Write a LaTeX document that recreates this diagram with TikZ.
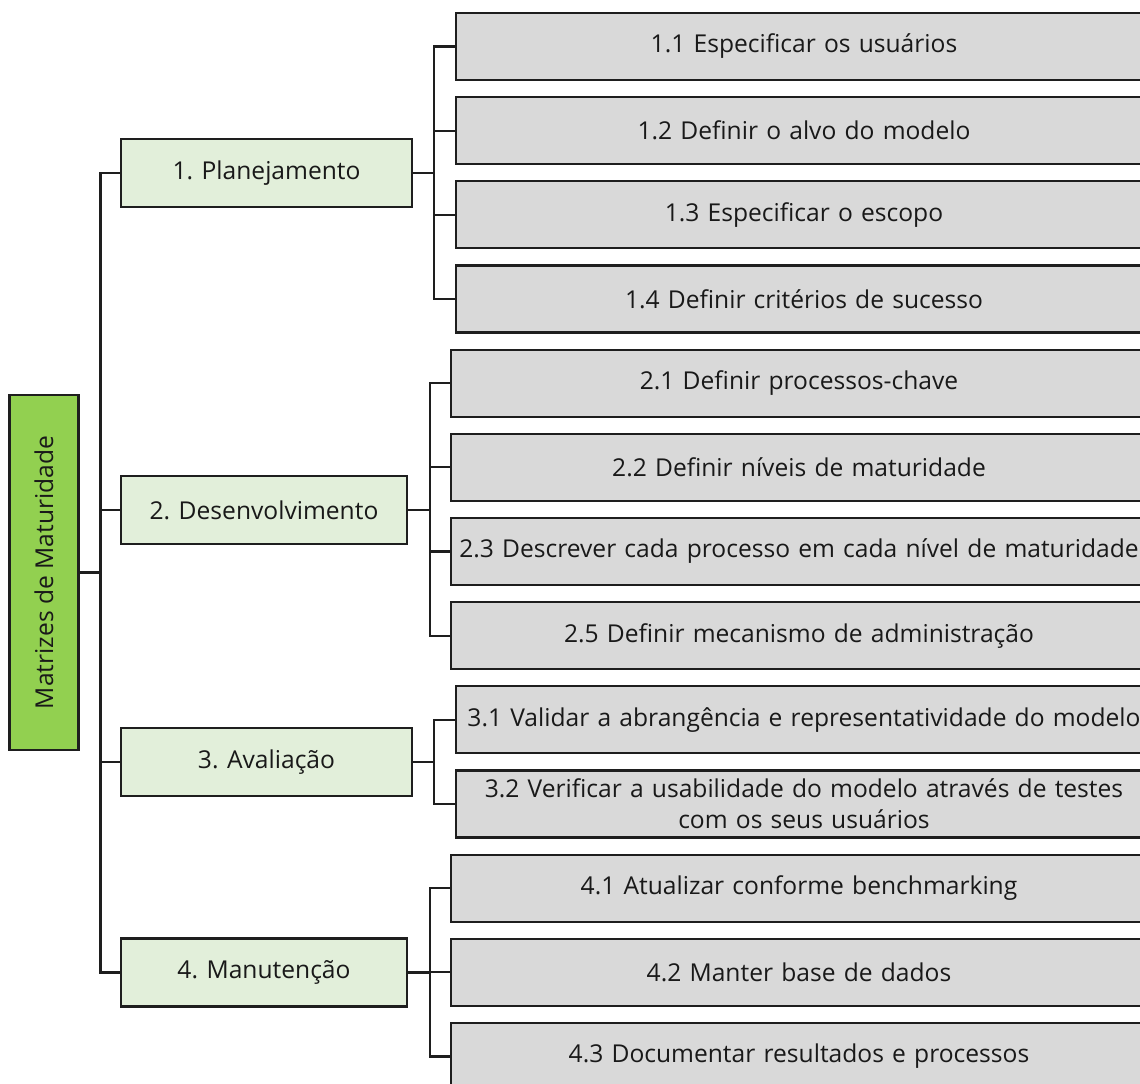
\documentclass[tikz,border=0pt]{standalone}
\usepackage{fontspec}
\usepackage{graphicx}
\setmainfont{Open Sans}

\definecolor{verdeforte}{HTML}{92D050}
\definecolor{verdeclaro}{HTML}{E2EFDA}
\definecolor{cinza}{HTML}{D9D9D9}
\definecolor{borda}{HTML}{1E1E1E}

\tikzset{
  raiz/.style={draw=borda, line width=1.2pt, fill=verdeforte, minimum width=1.38cm, minimum height=7.1cm, inner sep=0pt},
  etapa/.style={draw=borda, line width=1.2pt, fill=verdeclaro, minimum height=1.36cm, inner sep=0pt},
  tarefa/.style={draw=borda, line width=1.2pt, fill=cinza, minimum width=13.92cm, minimum height=1.34cm, text width=13.9cm, align=center, inner sep=0pt},
  liga/.style={draw=borda, line width=1.2pt},
}

\begin{document}
\begin{tikzpicture}[x=0.02cm, y=-0.02cm, font=\fontsize{14}{17.5}\selectfont, text=black!90]

\useasboundingbox (0,0) rectangle (1140,1084);
\clip (0,0) rectangle (1140,1084);

% raiz
\node [raiz] (raiz) at (44,572.5) {\rotatebox{90}{Matrizes de Maturidade}};

% etapas
\node [etapa, minimum width=5.82cm] (plan) at (266.5,173) {1. Planejamento};
\node [etapa, minimum width=5.72cm] (desenv) at (264,510) {2. Desenvolvimento};
\node [etapa, minimum width=5.82cm] (aval) at (266.5,762) {3. Avalia\c{c}\~ao};
\node [etapa, minimum width=5.72cm] (manut) at (264,972.5) {4. Manuten\c{c}\~ao};

% tarefas
\node [tarefa] (t11) at (804,46.5) {1.1 Especificar os usu\'arios};
\node [tarefa] (t12) at (804,130.7) {1.2 Definir o alvo do modelo};
\node [tarefa] (t13) at (804,214.8) {1.3 Especificar o escopo};
\node [tarefa] (t14) at (804,299) {1.4 Definir crit\'erios de sucesso};

\node [tarefa] (t21) at (799,383.2) {2.1 Definir processos-chave};
\node [tarefa] (t22) at (799,467.4) {2.2 Definir n\'iveis de maturidade};
\node [tarefa] (t23) at (799,551.5) {2.3 Descrever cada processo em cada n\'ivel de maturidade};
\node [tarefa] (t25) at (799,635.7) {2.5 Definir mecanismo de administra\c{c}\~ao};

\node [tarefa] (t31) at (804,719.9) {3.1 Validar a abrang\^encia e representatividade do modelo};
\node [tarefa] (t32) at (804,804) {3.2 Verificar a usabilidade do modelo atrav\'es de testes\\ com os seus usu\'arios};

\node [tarefa] (t41) at (799,888.2) {4.1 Atualizar conforme benchmarking};
\node [tarefa] (t42) at (799,972.4) {4.2 Manter base de dados};
\node [tarefa] (t43) at (799,1056.5) {4.3 Documentar resultados e processos};

% ligacoes
\foreach \e in {plan,desenv,aval,manut}
  \draw [liga] (raiz.east) -- ++(21,0) |- (\e.west);
\foreach \t in {t11,t12,t13,t14}
  \draw [liga] (plan.east) -- ++(21,0) |- (\t.west);
\foreach \t in {t21,t22,t23,t25}
  \draw [liga] (desenv.east) -- ++(22,0) |- (\t.west);
\foreach \t in {t31,t32}
  \draw [liga] (aval.east) -- ++(21,0) |- (\t.west);
\foreach \t in {t41,t42,t43}
  \draw [liga] (manut.east) -- ++(22,0) |- (\t.west);

\end{tikzpicture}
\end{document}
